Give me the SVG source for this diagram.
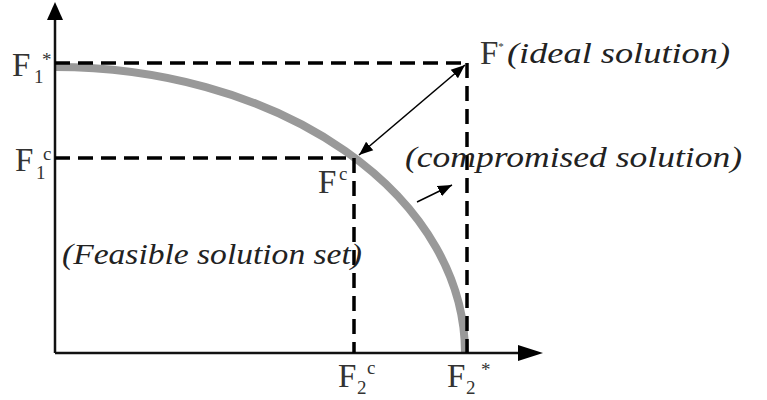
<svg xmlns="http://www.w3.org/2000/svg" width="767" height="400" viewBox="0 0 767 400">
<style>
text{font-family:'Liberation Serif','Times New Roman',serif}
.lbl{font-size:33px;fill:#333}
.sub{font-size:19px;fill:#333}
.it{font-size:30px;font-style:italic;fill:#222}
.dash{stroke:#000;stroke-width:3.5;stroke-dasharray:15 8;fill:none}
.axis{stroke:#111;stroke-width:2.5;fill:none}
</style>
<defs>
<marker id="ahs" viewBox="0 0 10 10" refX="10" refY="5" markerWidth="14" markerHeight="14" markerUnits="userSpaceOnUse" orient="auto-start-reverse">
<path d="M0,1 L10,5 L0,9 Z" fill="#000"/>
</marker>
</defs>
<rect width="767" height="400" fill="#fff"/>
<g id="curve">
<path d="M55,67 A410,286 0 0 1 465,353" stroke="#999" stroke-width="8" fill="none"/>
</g>
<g id="axes">
<line x1="55" y1="353" x2="55" y2="18" class="axis"/>
<path d="M47,20 L55,2 L63,20 Z" fill="#000"/>
<line x1="55" y1="353" x2="520" y2="353" class="axis"/>
<path d="M518,345 L543,353 L518,361 Z" fill="#000"/>
</g>
<g id="connectors">
<line x1="55" y1="63" x2="467" y2="63" class="dash"/>
<line x1="467" y1="63" x2="467" y2="353" class="dash"/>
<line x1="55" y1="158" x2="354" y2="158" class="dash"/>
<line x1="354" y1="158" x2="354" y2="353" class="dash"/>
<line x1="465" y1="65" x2="359" y2="155" stroke="#000" stroke-width="1.6" marker-start="url(#ahs)" marker-end="url(#ahs)"/>
<line x1="417" y1="202" x2="452" y2="185" stroke="#000" stroke-width="1.5" marker-end="url(#ahs)"/>
</g>
<g id="F1star">
<text x="12" y="76" class="lbl">F</text><text x="34" y="83" class="sub">1</text><text x="42" y="66" class="sub">*</text>
</g>
<g id="F1c">
<text x="15" y="171" class="lbl">F</text><text x="36" y="179" class="sub">1</text><text x="43" y="160" class="sub">c</text>
</g>
<g id="F2c">
<text x="338" y="387" class="lbl">F</text><text x="357" y="394" class="sub">2</text><text x="367" y="374" class="sub">c</text>
</g>
<g id="F2star">
<text x="447" y="387" class="lbl">F</text><text x="466" y="394" class="sub">2</text><text x="481" y="376" class="sub">*</text>
</g>
<g id="Fc">
<text x="318" y="193" class="lbl">F</text><text x="339" y="180" class="sub">c</text>
</g>
<g id="ideal">
<text x="480" y="64" class="lbl">F<tspan dy="-14" font-size="11">*</tspan></text>
<text x="507" y="63" class="it" textLength="223" lengthAdjust="spacingAndGlyphs">(ideal solution)</text>
</g>
<g id="compromised">
<text x="405" y="167" class="it" textLength="337" lengthAdjust="spacingAndGlyphs">(compromised solution)</text>
</g>
<g id="feasible">
<text x="62" y="264" class="it" textLength="300" lengthAdjust="spacingAndGlyphs">(Feasible solution set)</text>
</g>
</svg>
